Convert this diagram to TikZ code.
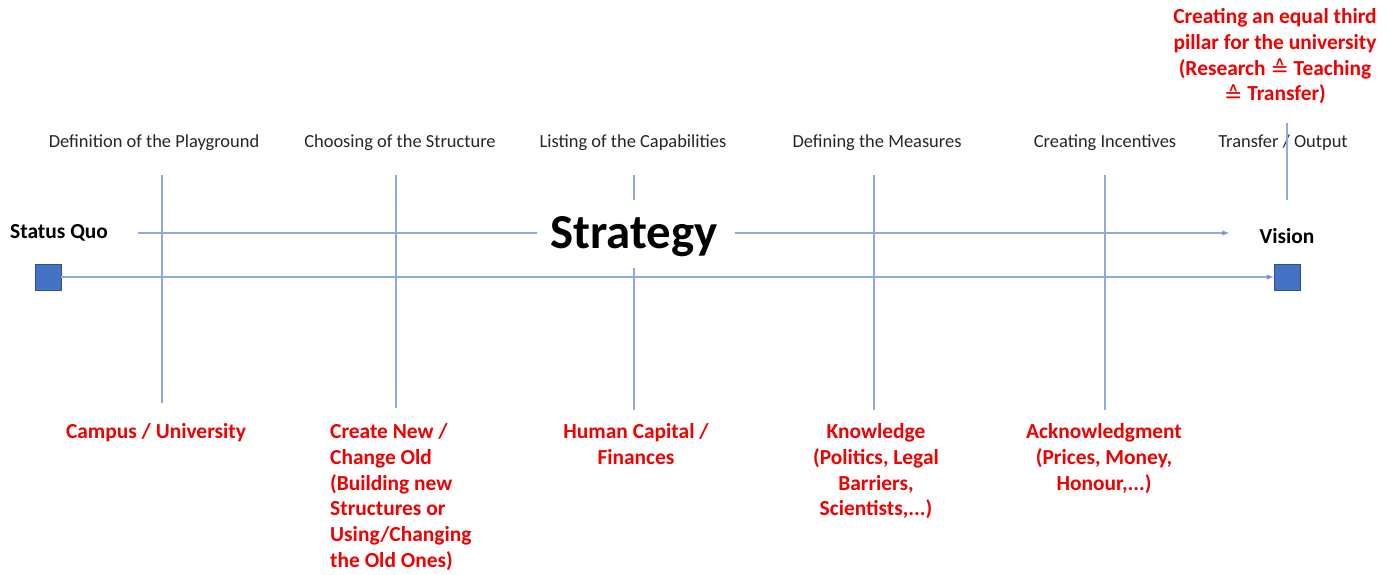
\documentclass[tikz,border=0pt]{standalone}
\usepackage{fontspec}
\setmainfont{Carlito}
\newfontfamily\symfont{DejaVu Sans}
\usetikzlibrary{arrows.meta}
\definecolor{lineblue}{HTML}{8FAADC}
\definecolor{tipblue}{HTML}{4472C4}
\definecolor{boxblue}{HTML}{4472C4}
\definecolor{boxedge}{HTML}{2F528F}
\definecolor{labred}{HTML}{F00000}
\newcommand{\corr}{{\symfont\mdseries\fontsize{22}{26}\selectfont\raisebox{-1.5pt}{≙}}}
\tikzset{
  steplabel/.style={font=\fontsize{18.5}{22}\selectfont, text=black!85, inner sep=0pt},
  redlabel/.style={font=\fontsize{21.5}{26}\selectfont\bfseries, text=labred, inner sep=0pt, anchor=north},
  guide/.style={draw=lineblue, line width=1.1pt},
  flow/.style={guide, -{Triangle[length=7pt,width=5pt,fill=tipblue]}},
  endbox/.style={draw=boxedge, fill=boxblue, line width=0.8pt, minimum size=26bp, inner sep=0pt},
  endlabel/.style={font=\fontsize{21.5}{25}\selectfont\bfseries, inner sep=0pt}
}
\begin{document}
\begin{tikzpicture}[x=1bp,y=-1bp]
\useasboundingbox (0,0) rectangle (1394,575);
% step labels
\node[steplabel] (s1) at (154,143) {Definition of the Playground};
\node[steplabel] (s2) at (400,143) {Choosing of the Structure};
\node[steplabel] (s3) at (633,143) {Listing of the Capabilities};
\node[steplabel] (s4) at (877,143) {Defining the Measures};
\node[steplabel] (s5) at (1105,143) {Creating Incentives};
\node[steplabel] (s6) at (1283,143) {Transfer / Output};
% main texts
\node[endlabel, anchor=west] (sq) at (10,233) {Status Quo};
\node[endlabel] (vis) at (1287,236) {Vision};
\node[font=\fontsize{49}{55}\selectfont\bfseries, inner sep=0pt] (str) at (634,237) {Strategy};
% squares
\node[endbox] (b1) at (48,277) {};
\node[endbox] (b2) at (1287,277) {};
% coordinates for guides
\coordinate (v1t) at (162,175); \coordinate (v1b) at (162,403);
\coordinate (v2t) at (396,175); \coordinate (v2b) at (396,408);
\coordinate (v3t) at (634,175); \coordinate (v3m) at (634,200);
\coordinate (v3n) at (634,268); \coordinate (v3b) at (634,410);
\coordinate (v4t) at (874,175); \coordinate (v4b) at (874,410);
\coordinate (v5t) at (1105,175); \coordinate (v5b) at (1105,410);
\coordinate (v6t) at (1287,123); \coordinate (v6b) at (1287,200);
\coordinate (h1a) at (138,233); \coordinate (h1b) at (537,233);
\coordinate (h1c) at (735,233); \coordinate (h1d) at (1229,233);
% vertical guides
\draw[guide] (v1t) -- (v1b);
\draw[guide] (v2t) -- (v2b);
\draw[guide] (v3t) -- (v3m);
\draw[guide] (v3n) -- (v3b);
\draw[guide] (v4t) -- (v4b);
\draw[guide] (v5t) -- (v5b);
\draw[guide] (v6t) -- (v6b);
% horizontal flows
\draw[guide] (h1a) -- (h1b);
\draw[flow] (h1c) -- (h1d);
\draw[flow] (b1.east) -- (b2.west);
% red labels
\node[redlabel] (r1) at (156,423) {Campus / University};
\node[redlabel, align=left, anchor=north west] (r2) at (330,423) {Create New /\\Change Old\\(Building new\\Structures or\\Using/Changing\\the Old Ones)};
\node[redlabel, align=center] (r3) at (636,423) {Human Capital /\\Finances};
\node[redlabel, align=center] (r4) at (876,423) {Knowledge\\(Politics, Legal\\Barriers,\\Scientists,...)};
\node[redlabel, align=center] (r5) at (1104,423) {Acknowledgment\\(Prices, Money,\\Honour,...)};
\node[redlabel, align=center] (r6) at (1275,8) {Creating an equal third\\pillar for the university\\(Research \corr{} Teaching\\\corr{} Transfer)};
\end{tikzpicture}
\end{document}
